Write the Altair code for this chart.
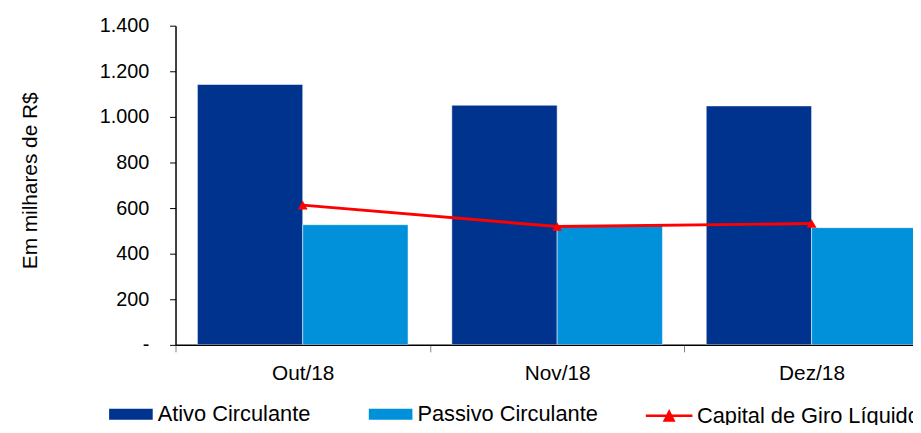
import altair as alt
import pandas as pd

months = ["Out/18", "Nov/18", "Dez/18"]
ativo = [1142, 1051, 1048]
passivo = [527, 525, 514]
capital = [613, 519, 532]

series_bars = ["Ativo Circulante", "Passivo Circulante"]
series_line = "Capital de Giro Líquido"
bar_colors = ["#00338D", "#0091DA"]
line_color = "#FF0000"

y_ticks = [0, 200, 400, 600, 800, 1000, 1200, 1400]

bars_df = pd.DataFrame(
    [{"mes": m, "serie": series_bars[0], "valor": v} for m, v in zip(months, ativo)]
    + [{"mes": m, "serie": series_bars[1], "valor": v} for m, v in zip(months, passivo)]
)
line_df = pd.DataFrame({"mes": months, "serie": [series_line] * 3, "valor": capital})

FONT = "Liberation Sans"

x_scale = alt.Scale(domain=months, range=[0, 770], paddingInner=0, paddingOuter=0)
y_scale = alt.Scale(domain=[0, 1400], nice=False)

x_axis = alt.Axis(
    title=None,
    labelFontSize=21,
    labelFont=FONT,
    labelColor="black",
    labelPadding=11,
    tickBand="extent",
    tickColor="#808080",
    tickSize=7,
    domainColor="black",
    domainWidth=1.5,
    labelAngle=0,
)
y_axis = alt.Axis(
    title="Em milhares de R$",
    titleFont=FONT,
    titleFontSize=21,
    titleFontWeight="normal",
    titleColor="black",
    titleX=-146,
    titleY=156,
    titleAlign="center",
    titleBaseline="middle",
    titleAngle=-90,
    values=y_ticks,
    labelExpr="datum.value == 0 ? '-' : replace(format(datum.value, ','), ',', '.')",
    labelFontSize=20,
    labelFont=FONT,
    labelColor="black",
    labelPadding=21,
    tickSize=6,
    tickColor="black",
    domainColor="black",
    domainWidth=1.5,
    grid=False,
)

bars = alt.Chart(bars_df).mark_bar(
    stroke="white", strokeWidth=1, strokeOpacity=0.5, clip=True
).encode(
    x=alt.X("mes:N", scale=x_scale, axis=x_axis, sort=months),
    xOffset=alt.XOffset(
        "serie:N",
        scale=alt.Scale(domain=series_bars, paddingOuter=0.208, paddingInner=0),
    ),
    y=alt.Y("valor:Q", scale=y_scale, axis=y_axis),
    fill=alt.Fill(
        "serie:N",
        scale=alt.Scale(domain=series_bars, range=bar_colors),
        legend=alt.Legend(
            orient="none",
            legendX=-67,
            legendY=370,
            direction="horizontal",
            title=None,
            symbolType="M-1,-0.25H1V0.25H-1Z",
            symbolSize=1936,
            symbolStrokeWidth=0,
            symbolOpacity=1,
            labelFont=FONT,
            labelFontSize=22,
            labelColor="black",
            labelOffset=5,
            columnPadding=58,
            padding=0,
            labelLimit=400,
        ),
    ),
)

line = alt.Chart(line_df).mark_line(strokeWidth=3, clip=True).encode(
    x=alt.X("mes:N", scale=x_scale, sort=months),
    y=alt.Y("valor:Q", scale=y_scale),
    stroke=alt.Stroke(
        "serie:N",
        scale=alt.Scale(domain=[series_line], range=[line_color]),
        legend=alt.Legend(
            orient="none",
            legendX=473,
            legendY=368.5,
            direction="horizontal",
            title=None,
            symbolType="M-1,0H1M-0.19,0.21L0,-0.17L0.19,0.21Z",
            symbolSize=2209,
            symbolStrokeWidth=2.5,
            symbolFillColor=line_color,
            labelFont=FONT,
            labelFontSize=22,
            labelColor="black",
            labelOffset=3,
            padding=0,
            labelLimit=400,
        ),
    ),
)

points = alt.Chart(line_df).mark_point(
    shape="triangle-up", filled=True, size=100, color=line_color, opacity=1, clip=True
).encode(
    x=alt.X("mes:N", scale=x_scale, sort=months),
    y=alt.Y("valor:Q", scale=y_scale),
)

chart = (
    alt.layer(bars, line, points)
    .resolve_scale(fill="independent", stroke="independent")
    .properties(
        width=744,
        height=322,
        autosize="none",
        padding={"left": 169, "top": 16, "right": 0, "bottom": 79},
        background="white",
    )
    .configure_view(stroke=None)
)

chart.save("out.html", embed_options={"renderer": "svg", "actions": False})
